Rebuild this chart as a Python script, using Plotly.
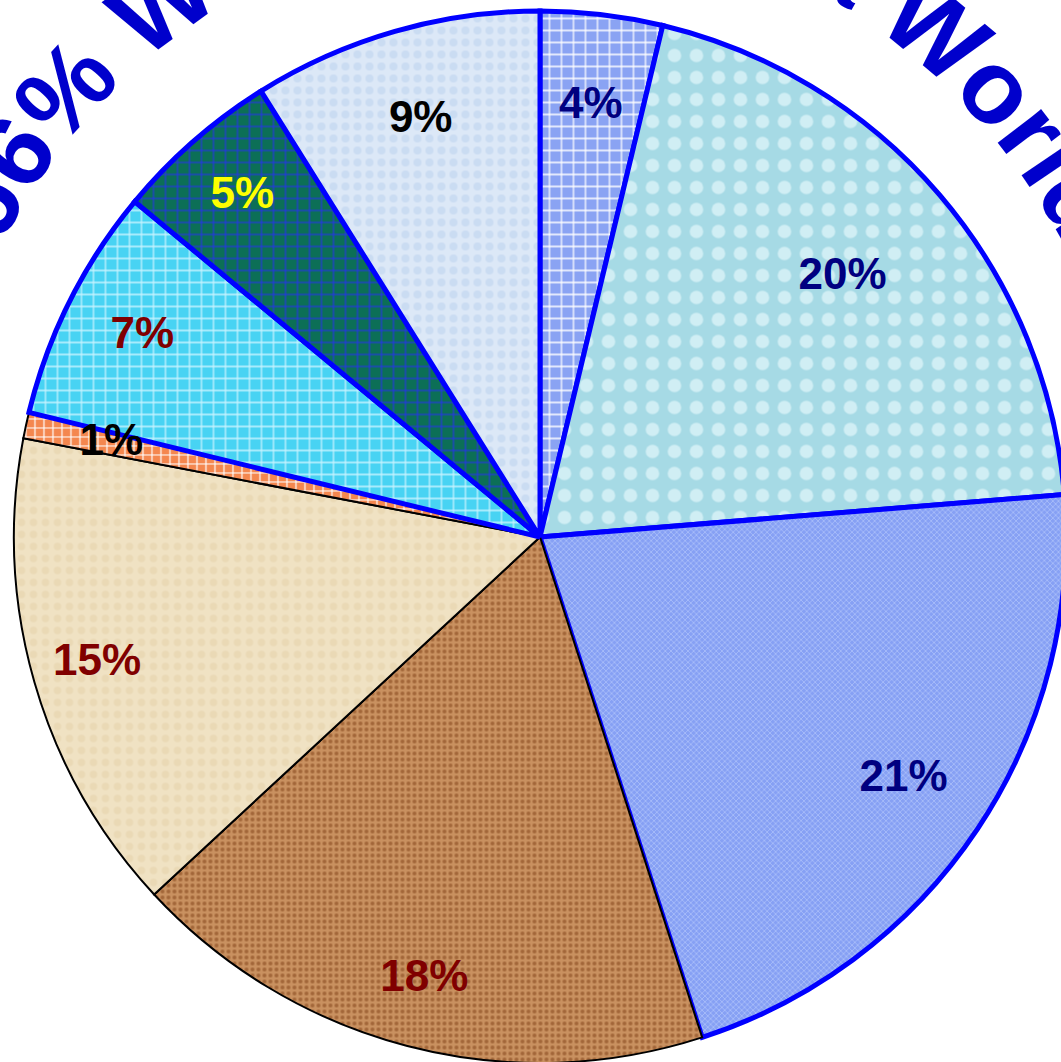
import math
import plotly.graph_objects as go

# ---------------- data ----------------
regions = ["Arctic Waters", "Atlantic Waters", "Pacific Waters", "Land A", "Land B",
           "Land C", "Indian Waters", "Southern Waters", "Inland Waters"]
values = [3.75, 19.97, 21.3, 18.1, 14.9, 0.8, 7.2, 5.1, 8.9]
kinds = ["water", "water", "water", "land", "land", "land", "water", "water", "water"]
title_text = "66% Water Covers a World"

# ---------------- styles ----------------
label_colors = ["#000080", "#000080", "#000080", "#800000", "#800000",
                "#000000", "#800000", "#ffff00", "#000000"]
label_r = [0.823, 0.757, 0.831, 0.871, 0.876, 0.834, 0.846, 0.859, 0.822]
fill_bg = ["#8aa3f3", "#a6dae5", "#86a0f4", "#c99160", "#f0e2c3",
           "#f4874f", "#48d3f3", "#0c6f56", "#dce8f7"]
fill_fg = ["#ffffff", "#d0eef4", "#b4c6fa", "#a26639", "#ead9b5",
           "#ffffff", "#c7f3ff", "#2a2aff", "#cadcf2"]
pat_shape = ["+", ".", "x", ".", ".", "+", "+", "+", "."]
pat_size = [12, 22, 4, 6, 12, 9, 12, 12, 12]
pat_solid = [0.2, 0.3, 0.3, 0.35, 0.3, 0.25, 0.2, 0.15, 0.35]
line_col = ["#0000ff" if k == "water" else "#000000" for k in kinds]
line_w = [5 if k == "water" else 2 for k in kinds]

W, H = 1100, 1100          # figure size (page clipped to window)
CX, CY, RPIE = 540, 537, 526
RMAX = 1.02                 # radial range so outer border isn't clipped
RP = RPIE * RMAX

total = sum(values)
widths = [v / total * 360 for v in values]
mids = []
acc = 0
for w in widths:
    mids.append(acc + w / 2)
    acc += w
labels = [f"{round(v / total * 100)}%" for v in values]

fig = go.Figure()
fig.add_trace(go.Barpolar(
    r=[1] * len(values), theta=mids, width=widths, base=0,
    name="share", text=regions, hoverinfo="text",
    marker=dict(
        pattern=dict(shape=pat_shape, fgcolor=fill_fg, bgcolor=fill_bg,
                     size=pat_size, solidity=pat_solid, fillmode="replace"),
        line=dict(color=line_col, width=line_w),
    ),
    opacity=1,
))
fig.add_trace(go.Scatterpolar(
    r=label_r, theta=mids, mode="text", text=labels,
    textfont=dict(color=label_colors, size=44, family="Liberation Sans, Arial", weight="bold"),
    cliponaxis=False, hoverinfo="skip",
))

# curved title (arched text): one annotation per character along an arc
# Arial Bold advance widths (em)
adv = {'6': .556, '%': .889, ' ': .278, 'W': .944, 'a': .556, 't': .333, 'e': .556,
       'r': .389, 'C': .722, 'o': .611, 'v': .556, 's': .556, 'l': .278, 'd': .611}
FS = 104
TX, TY = 532, 515          # arc centre (px)
RC = 632                   # glyph-centre radius
RB = RC - 0.3465 * FS      # baseline radius
K = 104                    # px per em along the baseline
TITLE_COLOR = "#0000cc"
centers = []
pos = 0
for ch in title_text:
    a = adv.get(ch, .556)
    centers.append(pos + a / 2)
    pos += a
ref_idx = title_text.index("%")
ref_ang = -47.7
annotations = []
for ch, c in zip(title_text, centers):
    if ch == " ":
        continue
    ang = ref_ang + math.degrees((c - centers[ref_idx]) * K / RB)
    t = math.radians(ang)
    px = TX + RC * math.sin(t)
    py = TY - RC * math.cos(t)
    annotations.append(dict(
        text=ch, x=px / W, y=1 - py / H, xref="paper", yref="paper",
        showarrow=False, xanchor="center", yanchor="middle", textangle=ang,
        font=dict(size=FS, color=TITLE_COLOR, family="Liberation Sans, Arial", weight="bold"),
    ))

fig.update_layout(
    width=W, height=H, margin=dict(l=0, r=0, t=0, b=0),
    paper_bgcolor="white", plot_bgcolor="white", showlegend=False,
    template="none",
    polar=dict(
        domain=dict(x=[(CX - RP) / W, (CX + RP) / W], y=[1 - (CY + RP) / H, 1 - (CY - RP) / H]),
        bgcolor="rgba(0,0,0,0)", bargap=0, hole=0,
        radialaxis=dict(visible=False, range=[0, RMAX]),
        angularaxis=dict(visible=False, rotation=90, direction="clockwise"),
    ),
    annotations=annotations,
)

post = ("document.documentElement.style.overflow='hidden';"
        "document.body.style.overflow='hidden';document.body.style.margin='0';")
fig.write_html("out.html", post_script=post, config={"displayModeBar": False})
